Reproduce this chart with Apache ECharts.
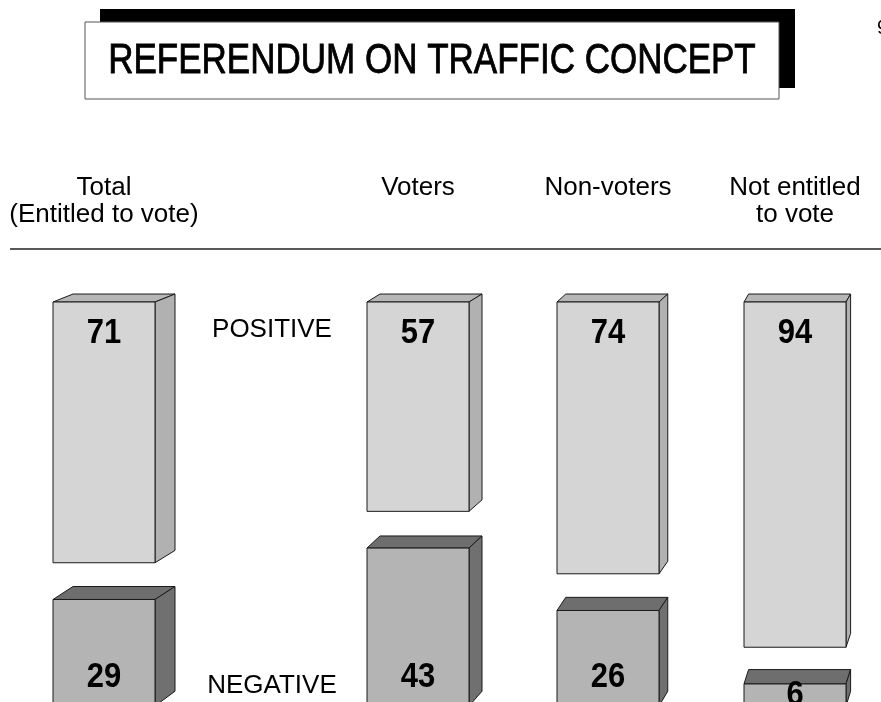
<!DOCTYPE html>
<html>
<head>
<meta charset="utf-8">
<script src="https://cdn.jsdelivr.net/npm/echarts@6/dist/echarts.min.js"></script>
<style>
  html, body { margin: 0; padding: 0; background: #ffffff; }
  #chart { width: 881px; height: 702px; }
</style>
</head>
<body>
<div id="chart"></div>
<script>
// Referendum results, per cent of each group
const categories = ['Total\n(Entitled to vote)', 'Voters', 'Non-voters', 'Not entitled\nto vote'];
const positiveShare = [71, 57, 74, 94];
const negativeShare = [29, 43, 26, 6];
const rowLabels = ['POSITIVE', 'NEGATIVE'];
const titleText = 'REFERENDUM ON TRAFFIC CONCEPT';

// Layout: one narrow grid per column
const columnLeft = [53, 367, 557, 744];
const columnWidth = 102;
const plotTop = 302;
const plotHeight = 404;
const SPAN = 110;          // 100 % plus the gap between the two blocks
const FONT = '"Liberation Sans", Arial, Helvetica, sans-serif';

// Perspective used for the box depth
const VX = 1052, KX = 0.0223, VY = -173, KY = 0.0168;
const depthX = x => KX * (VX - x);
const depthY = y => -KY * (y - VY);

const posColors = { front: '#d5d5d5', top: '#b6b6b6', side: '#b1b1b1' };
const negColors = { front: '#b4b4b4', top: '#6e6e6e', side: '#707070' };
const edge = { stroke: '#1a1a1a', lineWidth: 1 };

function box(x0, y0, x1, y1, c) {
  const dx = depthX(x1);
  const d0 = depthY(y0), d1 = depthY(y1);
  return [
    { type: 'polygon', shape: { points: [[x0, y0], [x1, y0], [x1 + dx, y0 + d0], [x0 + dx, y0 + d0]] },
      style: Object.assign({ fill: c.top }, edge) },
    { type: 'polygon', shape: { points: [[x1, y0], [x1, y1], [x1 + dx, y1 + d1], [x1 + dx, y0 + d0]] },
      style: Object.assign({ fill: c.side }, edge) },
    { type: 'rect', shape: { x: x0, y: y0, width: x1 - x0, height: y1 - y0 },
      style: Object.assign({ fill: c.front }, edge) }
  ];
}

function valueText(txt, x, y) {
  return {
    type: 'text', x: x, y: y, scaleY: 1.15,
    style: { text: String(txt), x: 0, y: 0, align: 'center', verticalAlign: 'middle',
             font: 'bold 31px ' + FONT, fill: '#000' }
  };
}

function renderBar(params, api) {
  const pos = api.value(1), neg = api.value(2);
  const half = api.size([1, 0])[0] / 2;
  const cx = api.coord([0, 0])[0];
  const yTop = api.coord([0, 0])[1];
  const yPos = api.coord([0, pos])[1];
  const yNegTop = api.coord([0, SPAN - neg])[1];
  const yBase = api.coord([0, SPAN])[1];
  const kids = []
    .concat(box(cx - half, yTop, cx + half, yPos, posColors))
    .concat(box(cx - half, yNegTop, cx + half, yBase, negColors));
  kids.push(valueText(pos, cx, yTop + 31));
  kids.push(valueText(neg, cx, Math.max(yBase - 29, (yNegTop + yBase) / 2)));
  return { type: 'group', children: kids };
}

const grids = [], xAxes = [], yAxes = [], series = [];
categories.forEach((cat, i) => {
  grids.push({ left: columnLeft[i], width: columnWidth, top: plotTop, height: plotHeight,
               outerBoundsMode: 'none', containLabel: false });
  xAxes.push({
    type: 'category', gridIndex: i, position: 'top', data: [cat],
    axisLine: { show: false }, axisTick: { show: false },
    axisLabel: { margin: 128, verticalAlign: 'top', align: 'center', lineHeight: 27,
                 fontFamily: FONT, fontSize: 26, color: '#000', interval: 0 }
  });
  yAxes.push({ type: 'value', gridIndex: i, min: 0, max: SPAN, inverse: true, show: false });
  series.push({
    type: 'custom', xAxisIndex: i, yAxisIndex: i, clip: false,
    renderItem: renderBar,
    data: [[0, positiveShare[i], negativeShare[i]]]
  });
});

const captionStyle = (txt) => ({
  text: txt, x: 0, y: 0, align: 'center', verticalAlign: 'middle',
  textAlign: 'center', textVerticalAlign: 'middle', font: '26px ' + FONT, fill: '#000'
});

const graphic = [
  // title panel with its drop shadow
  { type: 'rect', shape: { x: 100, y: 9, width: 695, height: 79 }, style: { fill: '#000' } },
  { type: 'rect', shape: { x: 85, y: 22, width: 694, height: 77 },
    style: { fill: '#fff', stroke: '#555', lineWidth: 1 } },
  { type: 'text', x: 432, y: 61, scaleY: 1.2,
    style: { text: titleText, x: 0, y: 0, align: 'center', verticalAlign: 'middle',
             textAlign: 'center', textVerticalAlign: 'middle',
             font: '35px ' + FONT, fill: '#000', stroke: '#000', lineWidth: 0.7 } },
  { type: 'text', x: 877, y: 28,
    style: { text: '9', x: 0, y: 0, align: 'left', verticalAlign: 'middle',
             textAlign: 'left', textVerticalAlign: 'middle', font: '20px ' + FONT, fill: '#000' } },
  // rule under the column headers
  { type: 'line', shape: { x1: 10, y1: 249, x2: 881, y2: 249 }, style: { stroke: '#222', lineWidth: 1.4 } },
  // row captions
  { type: 'text', x: 272, y: 330, style: captionStyle(rowLabels[0]) },
  { type: 'text', x: 272, y: 686, style: captionStyle(rowLabels[1]) }
];

const chart = echarts.init(document.getElementById('chart'), null, { renderer: 'canvas' });
chart.setOption({
  animation: false,
  backgroundColor: '#ffffff',
  grid: grids, xAxis: xAxes, yAxis: yAxes, series: series,
  graphic: graphic
});
</script>
</body>
</html>
